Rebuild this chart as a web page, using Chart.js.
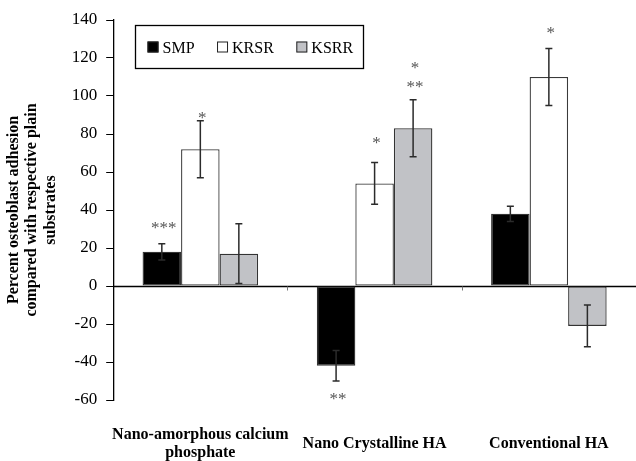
<!DOCTYPE html>
<html>
<head>
<meta charset="utf-8">
<script src="https://cdn.jsdelivr.net/npm/chart.js@4"></script>
<style>
  html, body { margin: 0; padding: 0; background: #fff; }
</style>
</head>
<body>
<canvas id="chart" width="636" height="461"></canvas>
<script>
// Values
const categories = [
  ['Nano-amorphous calcium', 'phosphate'],
  'Nano Crystalline HA',
  'Conventional HA'
];
const seriesNames = ['SMP', 'KRSR', 'KSRR'];
const smpValues = [18, -42, 38];
const smpErrors = [4.3, 8, 4];
const krsrValues = [72, 54, 110];
const krsrErrors = [15, 11, 15];
const ksrrValues = [17, 83, -21];
const ksrrErrors = [15.7, 15, 11];
const yTicks = [-60, -40, -20, 0, 20, 40, 60, 80, 100, 120, 140];

// significance marks: series index, category index, text, value where the mark sits
const stars = [
  [0, 0, '***', 32.8],
  [0, 1, '**', -57.5],
  [1, 0, '*', 90.7],
  [1, 1, '*', 77.6],
  [1, 2, '*', 135.5],
  [2, 1, '**', 106.7],
  [2, 1, '*', 116.7]
];

const SERIF = '"Liberation Serif", "Times New Roman", serif';

// Error bars with caps on both ends
const errorBarPlugin = {
  id: 'errorBars',
  afterDatasetsDraw(chart) {
    const ctx = chart.ctx;
    const y = chart.scales.y;
    ctx.save();
    ctx.strokeStyle = '#2b2b2b';
    ctx.lineWidth = 1.5;
    chart.data.datasets.forEach((ds, di) => {
      const meta = chart.getDatasetMeta(di);
      meta.data.forEach((bar, i) => {
        const v = ds.data[i], e = ds.errors[i];
        const top = y.getPixelForValue(v + e);
        const bot = y.getPixelForValue(v - e);
        ctx.beginPath();
        ctx.moveTo(bar.x, top); ctx.lineTo(bar.x, bot);
        ctx.moveTo(bar.x - 3.5, top); ctx.lineTo(bar.x + 3.5, top);
        ctx.moveTo(bar.x - 3.5, bot); ctx.lineTo(bar.x + 3.5, bot);
        ctx.stroke();
      });
    });
    ctx.restore();
  }
};

// Zero line, small category ticks, asterisks and the boxed legend
const decorPlugin = {
  id: 'decor',
  beforeDatasetsDraw(chart) {
    const ctx = chart.ctx, area = chart.chartArea;
    const y = chart.scales.y;
    const y0 = Math.round(y.getPixelForValue(0)) + 0.5;
    ctx.save();
    ctx.strokeStyle = '#000';
    ctx.lineWidth = 1.3;
    ctx.beginPath();
    ctx.moveTo(area.left, y0); ctx.lineTo(area.right, y0);
    ctx.stroke();
    ctx.strokeStyle = '#777';
    ctx.lineWidth = 1;
    const step = (area.right - area.left) / categories.length;
    for (let i = 1; i < categories.length; i++) {
      const px = Math.round(area.left + step * i) + 0.5;
      ctx.beginPath();
      ctx.moveTo(px, y0); ctx.lineTo(px, y0 + 4);
      ctx.stroke();
    }
    ctx.restore();
  },
  afterDraw(chart) {
    const ctx = chart.ctx;
    const y = chart.scales.y;
    ctx.save();
    // asterisks
    ctx.fillStyle = '#555';
    ctx.font = '17px ' + SERIF;
    ctx.textAlign = 'center';
    ctx.textBaseline = 'alphabetic';
    stars.forEach(([s, c, text, val]) => {
      const bar = chart.getDatasetMeta(s).data[c];
      ctx.fillText(text, bar.x + 2, y.getPixelForValue(val) + 9);
    });

    // legend
    const left = 135.5, top = 25.5, w = 228, h = 43;
    ctx.strokeStyle = '#000';
    ctx.lineWidth = 1.3;
    ctx.strokeRect(left, top, w, h);
    ctx.font = '16px ' + SERIF;
    ctx.textAlign = 'left';
    ctx.fillStyle = '#000';
    let cx = left + 12;
    const sq = 11, sy = 41.5;
    chart.data.datasets.forEach((ds) => {
      ctx.fillStyle = ds.backgroundColor;
      ctx.fillRect(cx, sy, sq, sq);
      ctx.lineWidth = 1;
      ctx.strokeStyle = '#222';
      ctx.strokeRect(cx + 0.5, sy + 0.5, sq - 1, sq - 1);
      ctx.fillStyle = '#000';
      ctx.fillText(ds.label, cx + sq + 4, 53);
      cx += sq + 4 + ctx.measureText(ds.label).width + 22.5;
    });
    ctx.restore();
  }
};

const datasets = [
  { label: seriesNames[0], data: smpValues, errors: smpErrors, backgroundColor: '#000000', borderColor: '#333333' },
  { label: seriesNames[1], data: krsrValues, errors: krsrErrors, backgroundColor: '#ffffff', borderColor: '#3a3a3a' },
  { label: seriesNames[2], data: ksrrValues, errors: ksrrErrors, backgroundColor: '#c1c2c6', borderColor: '#333333' }
].map(d => Object.assign(d, { borderWidth: 1.3, borderSkipped: false, categoryPercentage: 0.663, barPercentage: 1 }));

new Chart(document.getElementById('chart'), {
  type: 'bar',
  data: { labels: categories, datasets: datasets },
  plugins: [decorPlugin, errorBarPlugin],
  options: {
    responsive: false,
    animation: false,
    // the x labels sit 35px below the plot; Chart.js reserves that gap twice, so pull the bottom back
    layout: { padding: { left: 4.5, top: 20, right: 0, bottom: -45 } },
    plugins: {
      legend: { display: false },
      tooltip: { enabled: false }
    },
    scales: {
      x: {
        grid: { display: false, drawTicks: false },
        border: { display: false },
        // keep the plot running to the right edge like the original
        afterFit: (scale) => { scale.paddingLeft = 0; scale.paddingRight = 0; },
        ticks: {
          color: '#000',
          padding: 35,
          maxRotation: 0,
          minRotation: 0,
          autoSkip: false,
          crossAlign: 'center',
          font: { family: SERIF, size: 16, weight: 'bold', lineHeight: 1.125 }
        }
      },
      y: {
        min: -60,
        max: 140,
        afterBuildTicks: (scale) => { scale.ticks = yTicks.map(v => ({ value: v })); },
        grid: { drawOnChartArea: false, drawTicks: true, tickLength: 7, color: '#000' },
        border: { display: true, color: '#000', width: 1.3 },
        ticks: {
          color: '#000',
          padding: 9,
          font: { family: SERIF, size: 17 }
        },
        title: {
          display: true,
          text: ['Percent osteoblast adhesion', 'compared with respective plain', 'substrates'],
          color: '#000',
          padding: { top: 0, bottom: 3 },
          font: { family: SERIF, size: 16, weight: 'bold', lineHeight: 1.15 }
        }
      }
    }
  }
});
</script>
</body>
</html>
